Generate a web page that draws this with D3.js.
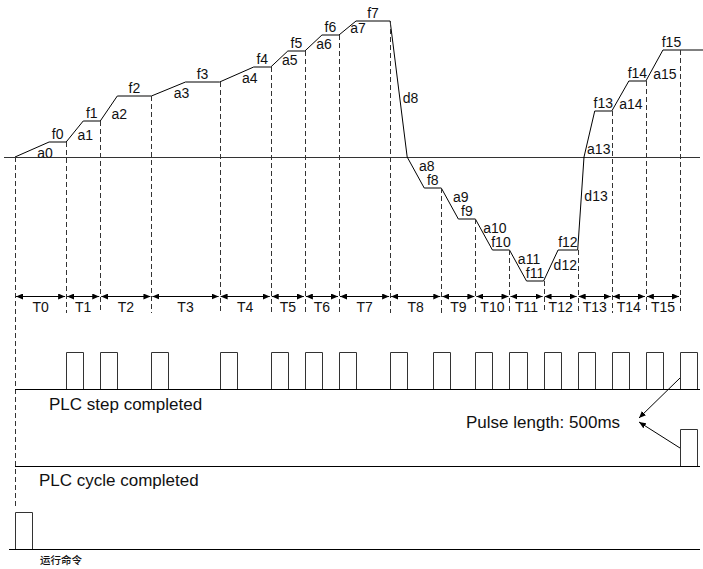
<!DOCTYPE html>
<html><head><meta charset="utf-8">
<script src="https://cdn.jsdelivr.net/npm/d3@7/dist/d3.min.js"></script>
<style>body{margin:0;background:#fff}svg{display:block}</style>
</head><body>
<script>
// ---- data ----
const stepNames = ["T0","T1","T2","T3","T4","T5","T6","T7","T8","T9","T10","T11","T12","T13","T14","T15"];
const stepUnits = [3,2,3,4,3,2,2,3,3,2,2,2,2,2,2,2];          // duration of each step (500 ms units)
const stepFreq  = [15,36,61,75,90,106,122,136,-31,-62,-93,-124,-93,46,76,107]; // target frequency of each step
const rampUnits = [2,1,1,2,2,1,1,1,2,1,1,1,0.85,1,1,1];       // ramp time of each step
const zeroCross = [null,null,null,null,null,null,null,null,1,null,null,null,null,0.37,null,null]; // time the ramp passes 0
const tailUnits = 40.35;                                       // last frequency held to here
const stepPulseStart  = [3,5,8,12,15,17,19,22,24.5,27,29,31,33,35,37,39];
const cyclePulseStart = [39];
const runPulseStart   = [0];
const pulseUnits = 1;
const textStep = "PLC step completed";
const textCycle = "PLC cycle completed";
const textPulse = "Pulse length: 500ms";
const textRun = "运行命令";

// ---- layout ----
const W = 703, H = 569;
const svg = d3.select("body").append("svg").attr("width", W).attr("height", H)
  .style("font-family", "'Liberation Sans', Arial, sans-serif");

const x = d3.scaleLinear().domain([0, 39]).range([15, 680]);
const y = d3.scaleLinear().domain([-130, 140]).range([287, 17]);

const cum = [0];
stepUnits.forEach(d => cum.push(cum[cum.length - 1] + d));

const defs = svg.append("defs");
defs.append("marker").attr("id", "ah").attr("viewBox", "0 0 7 6")
  .attr("refX", 7).attr("refY", 3).attr("markerWidth", 7).attr("markerHeight", 6)
  .attr("markerUnits", "userSpaceOnUse").attr("orient", "auto-start-reverse")
  .append("path").attr("d", "M0,0L7,3L0,6Z").attr("fill", "#000");

// frequency baseline
svg.append("line").attr("x1", 4).attr("x2", 700).attr("y1", y(0) + 0.5).attr("y2", y(0) + 0.5)
  .attr("stroke", "#333").attr("stroke-width", 1);

// frequency profile
const pts = [[0, 0]];
const segs = []; // ramp segments for labels
stepFreq.forEach((f, i) => {
  const t0 = cum[i];
  const prev = i === 0 ? 0 : stepFreq[i - 1];
  if (zeroCross[i] != null) {
    pts.push([t0 + zeroCross[i], 0]);
    segs.push({name: "d" + i, kind: "cross", a: [t0, prev], b: [t0 + zeroCross[i], 0]});
    segs.push({name: "a" + i, kind: f >= 0 ? "upCross" : "down", a: [t0 + zeroCross[i], 0], b: [t0 + rampUnits[i], f]});
  } else {
    const accel = Math.abs(f) > Math.abs(prev);
    let kind;
    if (f >= 0 && prev >= 0) kind = accel ? (rampUnits[i] >= 2 ? "upLong" : "up") : "d";
    else kind = accel ? "down" : "dneg";
    segs.push({name: (accel ? "a" : "d") + i, kind, a: [t0, prev], b: [t0 + rampUnits[i], f]});
  }
  pts.push([t0 + rampUnits[i], f]);
  pts.push([i === stepFreq.length - 1 ? tailUnits : cum[i + 1], f]);
});
svg.append("path").attr("d", d3.line().x(d => x(d[0])).y(d => y(d[1]))(pts))
  .attr("fill", "none").attr("stroke", "#000").attr("stroke-width", 1);

const lab = svg.append("g").attr("font-size", 14).attr("fill", "#111");
// f labels
stepFreq.forEach((f, i) => {
  const xa = x(cum[i] + rampUnits[i]), xb = x(cum[i + 1]);
  lab.append("text").attr("x", (xa + xb) / 2).attr("y", y(f) - 3)
    .attr("text-anchor", "middle").text("f" + i);
});
// ramp labels
segs.forEach(s => {
  const xa = x(s.a[0]), ya = y(s.a[1]), xb = x(s.b[0]), yb = y(s.b[1]);
  let tx, ty, anchor = "middle";
  if (s.kind === "up") { tx = xb + 2; ty = ya - 2; }
  else if (s.kind === "upCross") { tx = xb + 4; ty = ya - 3; }
  else if (s.kind === "upLong") { tx = xb - 4; ty = yb + 16; }
  else if (s.kind === "down") { tx = (xa + xb) / 2 + 11; ty = (ya + yb) / 2 - 2; }
  else if (s.kind === "cross") {
    const fr = 0.57; ty = ya + fr * (yb - ya) + 4;
    tx = xa + (ty - 5 - ya) / (yb - ya) * (xb - xa) + 3; anchor = "start";
  } else { ty = ya - 11; tx = xa + (ya - ty + 4) / (ya - yb) * (xb - xa) + 3; anchor = "start"; }
  lab.append("text").attr("x", tx).attr("y", ty).attr("text-anchor", anchor).text(s.name);
});

// dashed step boundaries
const dash = svg.append("g").attr("stroke", "#333").attr("stroke-width", 1).attr("stroke-dasharray", "5,3");
cum.forEach((t, i) => {
  const v = i === 0 ? 0 : stepFreq[i - 1];
  dash.append("line").attr("x1", Math.round(x(t)) + 0.5).attr("x2", Math.round(x(t)) + 0.5)
    .attr("y1", y(v)).attr("y2", i === 0 ? 508 : 313);
});

// step duration arrows
const arrowY = 296.5;
stepNames.forEach((n, i) => {
  svg.append("line").attr("x1", x(cum[i]) + 1).attr("x2", x(cum[i + 1]) - 1)
    .attr("y1", arrowY).attr("y2", arrowY).attr("stroke", "#000").attr("stroke-width", 1)
    .attr("marker-start", "url(#ah)").attr("marker-end", "url(#ah)");
  lab.append("text").attr("x", (x(cum[i]) + x(cum[i + 1])) / 2).attr("y", 312)
    .attr("text-anchor", "middle").text(n);
});

// pulse trains
function pulses(starts, base, top, x0) {
  svg.append("line").attr("x1", x0).attr("x2", 700).attr("y1", base + 0.5).attr("y2", base + 0.5)
    .attr("stroke", "#000").attr("stroke-width", 1);
  starts.forEach(t => {
    const a = Math.round(x(t)) + 0.5, b = Math.round(x(t + pulseUnits)) + 0.5;
    svg.append("path").attr("d", `M${a},${base}V${top + 0.5}H${b}V${base}`)
      .attr("fill", "none").attr("stroke", "#333").attr("stroke-width", 1);
  });
}
pulses(stepPulseStart, 389, 352, 15);
pulses(cyclePulseStart, 466, 429, 15);
pulses(runPulseStart, 549, 512, 9);

const big = svg.append("g").attr("font-size", 17).attr("fill", "#111");
big.append("text").attr("x", 49).attr("y", 410).text(textStep);
big.append("text").attr("x", 466).attr("y", 428).text(textPulse);
big.append("text").attr("x", 39).attr("y", 486).text(textCycle);
svg.append("text").attr("x", 40).attr("y", 564).attr("font-size", 10.5)
  .attr("font-family", "'Noto Sans CJK SC', sans-serif").attr("font-weight", 500)
  .attr("fill", "#111").text(textRun);

// pulse length annotation
const ann = svg.append("g").attr("stroke", "#000").attr("stroke-width", 1).attr("fill", "none");
ann.append("line").attr("x1", x(39)).attr("y1", 378).attr("x2", x(39) - 41).attr("y2", 418)
  .attr("marker-end", "url(#ah)");
ann.append("line").attr("x1", x(39)).attr("y1", 448).attr("x2", x(39) - 41).attr("y2", 422)
  .attr("marker-end", "url(#ah)");
</script>
</body></html>
